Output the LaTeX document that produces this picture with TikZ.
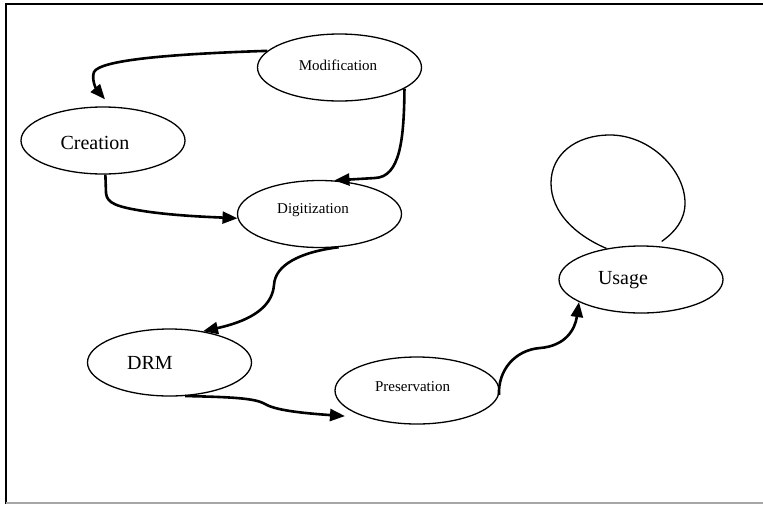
\documentclass[tikz,border=0pt]{standalone}
\usepackage{fontspec}
\setmainfont{Liberation Serif}
\usetikzlibrary{shapes.geometric,arrows.meta}
\begin{document}
\begin{tikzpicture}[x=1pt,y=-1pt,
  stage/.style={ellipse,draw,line width=1.3pt,inner sep=0pt,
    minimum width=164pt,minimum height=67pt},
  bigtxt/.style={font=\fontsize{20}{24}\selectfont},
  smalltxt/.style={font=\fontsize{15}{18}\selectfont},
  flow/.style={line width=2.6pt,-{Triangle[length=15pt,width=12pt]}},
  loopline/.style={line width=1.3pt}]
\useasboundingbox (0,0) rectangle (763,504);
% frame
\draw[line width=1.6pt] (6,504) -- (6,4) -- (763,4);
\draw[line width=1.2pt,gray!70] (6,503) -- (763,503);

% stages
\node[stage,label={[smalltxt,anchor=base,xshift=-1.5pt,yshift=2.5pt]center:Modification}] (mod) at (339.5,67.5) {};
\node[stage,label={[bigtxt,anchor=base,xshift=-8pt,yshift=-2.5pt]center:Creation}] (cre) at (103,140.5) {};
\node[stage,label={[smalltxt,anchor=base,xshift=-6.5pt,yshift=4pt]center:Digitization}] (dig) at (319.5,214) {};
\node[stage,label={[bigtxt,anchor=base,xshift=-19.5pt,yshift=-0.5pt]center:DRM}] (drm) at (169.5,362.5) {};
\node[stage,label={[smalltxt,anchor=base,xshift=-4.5pt,yshift=3.5pt]center:Preservation}] (pre) at (417,390.5) {};
\node[stage,label={[bigtxt,anchor=base,xshift=-18pt,yshift=-0.5pt]center:Usage}] (use) at (641,279.5) {};

% connectors
\draw[flow] (mod.167) .. controls (170,54) and (100,60) .. (94,72)
  .. controls (91,80) and (97,90) .. ([shift={(2pt,7pt)}]cre.north);
\draw[flow] (mod.-18) .. controls (404,140) and (400,177) .. (375,178)
  -- (dig.66);
\draw[flow] (cre.-86) -- (106,193) .. controls (107,203) and (115,207) .. (150,212)
  .. controls (180,216) and (210,217) .. (dig.183);
\draw[flow] (dig.-60) .. controls (300,252) and (275,265) .. (274,285)
  .. controls (272,310) and (245,322) .. (drm.43);
\draw[flow] (drm.-65) .. controls (230,397) and (255,398) .. (265,404)
  .. controls (275,410) and (300,413) .. ([shift={(-10pt,-3pt)}]pre.200);
\draw[flow] (pre.-3) .. controls (498,370) and (515,350) .. (540,348)
  .. controls (565,346) and (575,330) .. (use.200);
% self loop on Usage
\draw[loopline] (use.138) .. controls (575,235) and (551,212) .. (551,183)
  .. controls (551,155) and (575,135) .. (610,135)
  .. controls (650,135) and (685,170) .. (685,203)
  .. controls (685,220) and (675,232) .. ([yshift=5pt]use.58);
\end{tikzpicture}
\end{document}
